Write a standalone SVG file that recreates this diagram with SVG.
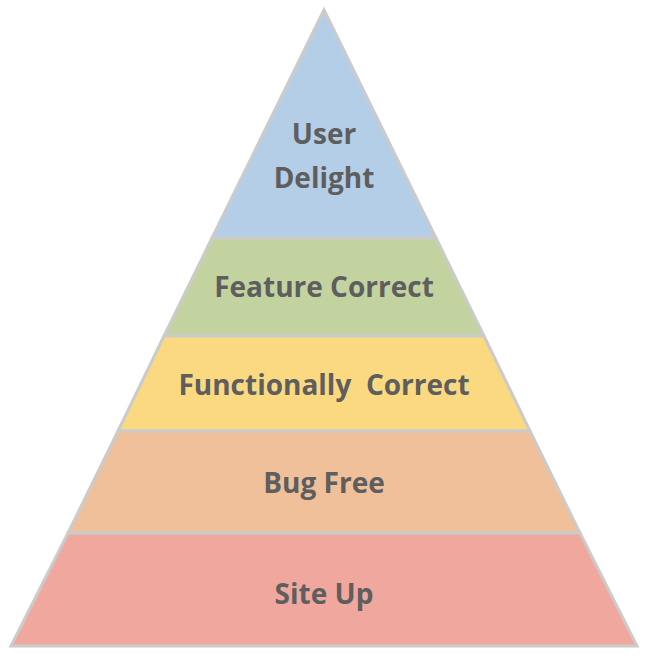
<svg xmlns="http://www.w3.org/2000/svg" width="650" height="660" viewBox="0 0 650 660">
<style>
.lay{stroke:#cbcbcb;stroke-width:3;stroke-linejoin:miter}
.t{font-family:"Open Sans","Noto Sans",sans-serif;font-weight:700;font-size:28px;fill:#5e5e5e;text-anchor:middle;dominant-baseline:central}
</style>
<rect width="650" height="660" fill="#ffffff"/>
<g id="user-delight">
<polygon class="lay" fill="#b4cee8" points="324,10 436,238 212,238"/>
<text class="t" x="324" y="133">User</text>
<text class="t" x="324" y="177">Delight</text>
</g>
<g id="feature-correct">
<polygon class="lay" fill="#c3d39f" points="212,238 436,238 484,336 164,336"/>
<text class="t" x="324" y="286">Feature Correct</text>
</g>
<g id="functionally-correct">
<polygon class="lay" fill="#fad981" points="164,336 484,336 530,431 118,431"/>
<text class="t" x="324" y="384" xml:space="preserve">Functionally  Correct</text>
</g>
<g id="bug-free">
<polygon class="lay" fill="#efc09a" points="118,431 530,431 580,533 68,533"/>
<text class="t" x="324" y="482">Bug Free</text>
</g>
<g id="site-up">
<polygon class="lay" fill="#f0a89e" points="68,533 580,533 637,646 11,646"/>
<text class="t" x="324" y="593">Site Up</text>
</g>
<g id="connectors"/>
</svg>
